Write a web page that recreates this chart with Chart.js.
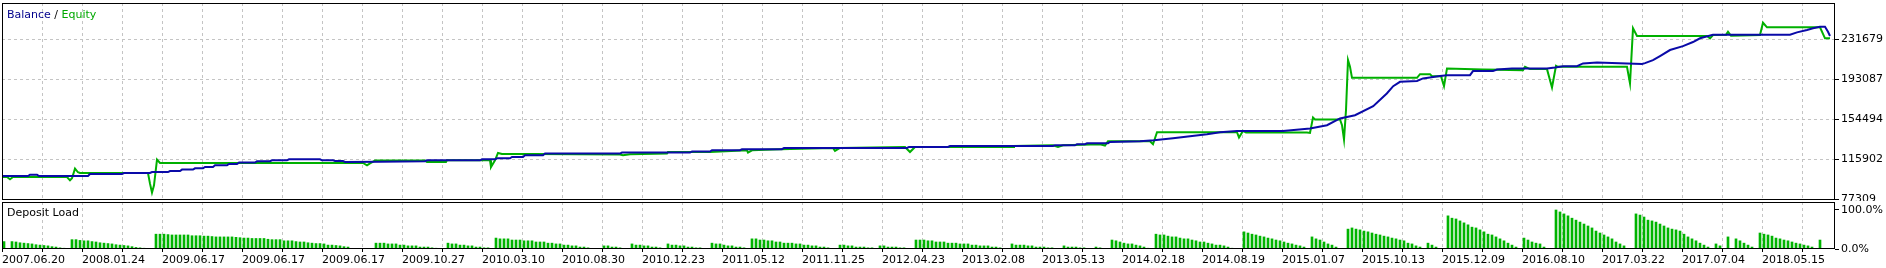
<!DOCTYPE html>
<html>
<head>
<meta charset="utf-8">
<script src="https://cdn.jsdelivr.net/npm/chart.js@4.4.1/dist/chart.umd.min.js"></script>
<style>
  html, body { margin:0; padding:0; background:#fff; }
  #wrap { position:relative; width:1886px; height:268px; }
  canvas { position:absolute; left:0; }
  #mainChart { top:0; }
  #loadChart { top:201px; }
</style>
</head>
<body>
<div id="wrap">
  <canvas id="mainChart" width="1886" height="201"></canvas>
  <canvas id="loadChart" width="1886" height="67"></canvas>
</div>
<script>
// x axis = trade number, one label every 20 trades
const dateLabels = [
  "2007.06.20","2008.01.24","2009.06.17","2009.06.17","2009.06.17","2009.10.27",
  "2010.03.10","2010.08.30","2010.12.23","2011.05.12","2011.11.25","2012.04.23",
  "2013.02.08","2013.05.13","2014.02.18","2014.08.19","2015.01.07","2015.10.13",
  "2015.12.09","2016.08.10","2017.03.22","2017.07.04","2018.05.15"
];
const tradeMax = 458.25;

const yTicks = [77309, 115902, 154494, 193087, 231679];
const loadTicks = [0, 100];

// [trade, balance]
const balancePts = [
  [0,99800],[6.5,99800],[7,101100],[8.75,101100],[9.25,99800],[21.5,99800],[22,101700],
  [30,101700],[30.5,102700],[37,102700],[37.5,103600],[41.5,103600],[42,104600],[44.5,104600],
  [45,106000],[47.75,106000],[48.25,107200],[50.25,107200],[50.75,108500],[52.75,108500],
  [53.25,110100],[56.25,110100],[56.75,111400],[58.75,111400],[59.25,112700],[63.25,112700],
  [63.75,114000],[67,114000],[67.5,114900],[71.25,114900],[71.75,115900],[79.5,115900],
  [80,114900],[82.75,114900],[83.25,114300],[85.25,114300],[85.75,113300],[94.5,113600],
  [105.75,114000],[106.25,114900],[119.5,114900],[120,115900],[123.25,115900],[123.75,116900],
  [127,116900],[127.5,118100],[130.25,118100],[130.75,119800],[135.25,119800],[135.75,121400],
  [154.5,121400],[155,122400],[172,122400],[172.5,123300],[177,123300],[177.5,124600],
  [184.5,124600],[185,125600],[195,125600],[195.5,126800],[226.25,126800],[226.75,127800],
  [236.5,127800],[237,128700],[262.75,128700],[263.25,129400],[268.25,129400],[268.75,130400],
  [270.75,130400],[271.25,131300],[276.5,131300],[277,132600],[284.5,133300],[288,134200],
  [292.75,136200],[297,138100],[301.25,140000],[304.5,142000],[308.75,143200],[320.25,143200],
  [327,145500],[331.25,148700],[334.5,155200],[338.25,158300],[342.8,167000],[346.2,179300],
  [347.8,186300],[349.5,190500],[353.75,191400],[355.25,193800],[359.5,196000],[361.25,196900],
  [367,196900],[367.75,200800],[372.75,200800],[373.75,202400],[377.5,203400],[386.25,203400],
  [388.25,204400],[390.25,205600],[393.75,205600],[395.25,208200],[398.75,209200],[406.25,208200],
  [410,207600],[410.75,208500],[412.75,211400],[414.5,215300],[417,221100],[420.25,224900],
  [422.75,228800],[424.5,232400],[427.75,235800],[439.5,235800],[447,235800],[448.75,238100],
  [451.25,240400],[452.75,242000],[454.5,243500],[455.75,243500],[456.5,238700],[457,234600]
];

// [trade, equity]
const equityPts = [
  [0,98800],[1.25,98800],[2,96600],[2.75,98800],[16.25,98800],[17,95650],[17.5,97570],
  [18.25,106930],[19,103400],[19.5,102690],[36.5,102690],[37,92460],[37.5,83770],[38,90820],
  [38.75,115600],[39.5,112330],[90.25,112330],[91.25,110110],[92,112040],[93.25,114650],
  [105.75,114650],[106.25,113300],[111,113300],[111.25,114940],[122,114940],[122.25,108470],
  [123.25,114940],[124,122000],[125,121020],[132.75,121020],[154.5,120440],[155.25,119760],
  [157,120730],[166.25,121400],[166.5,122950],[177,122950],[186.25,124590],[186.5,122370],
  [187.5,124590],[194.5,125550],[207.75,126800],[208.25,123920],[209.5,126800],[225.75,127770],
  [227,122950],[228.25,127770],[237,127770],[252.75,127770],[253,128740],[262.75,129410],
  [264,127770],[265.25,129410],[274.5,130380],[275.75,129120],[276.5,133270],[283.25,133270],
  [287,133270],[287.75,130380],[288.75,141950],[308.75,141950],[309.25,136850],[310.25,143210],
  [311,141660],[326.25,141660],[327,141280],[327.75,156140],[328.25,154210],[334.5,154210],
  [335,148700],[335.5,134910],[336,163180],[336.5,211420],[337,204950],[337.5,194340],
  [353.75,194340],[354.5,197910],[357,197910],[357.5,195980],[359.75,195980],[360.5,186330],
  [361.25,203410],[370.25,202450],[380.25,201770],[380.75,204950],[382,202730],[386.25,202730],
  [387,192120],[387.5,185080],[388.5,205920],[389,204950],[406.25,204950],[407,188940],
  [407.75,242000],[408.75,234570],[426.25,234570],[427,232350],[427.75,235540],[431,235830],
  [431.5,238720],[432.25,234860],[439.5,235540],[440.25,247400],[441.25,242970],[454.5,242970],
  [455.75,232350],[457,232350]
];

// deposit load (%), groups of consecutive trades starting at loadStart[k]
const loadStart = [0,2,17,38,93,111,123,150,157,166,177,187,209,219,228,252,265,273,277,288,
  310,327,336,356,361,380,388,408,428,431,433,439,454];
const loadGroups = [
  [19],
  [19,18,16,15,14,13,11,10,9,8,6,5,3,2],
  [24,24,22,21,21,19,18,16,15,14,13,11,10,9,8,6,4,3,2],
  [38,38,38,37,36,36,36,36,36,34,34,34,33,33,32,31,31,31,31,31,30,29,28,28,27,27,27,27,25,24,
   24,24,21,21,21,19,18,18,16,15,14,14,13,10,10,9,8,6,5],
  [15,15,15,13,13,13,10,10,8,8,8,5,5,5,3,2],
  [15,13,13,10,10,8,8,5,5,3,3],
  [28,26,26,26,23,23,23,21,21,21,18,18,18,15,15,13,13,10,10,8,8,5,5,3],
  [8,8,5,5,3],
  [13,10,10,8,8,5,5,3],
  [13,10,10,8,8,5,5,3,3],
  [15,13,13,10,8,8,5,5,3],
  [26,26,23,23,21,21,18,18,15,15,15,13,13,10,10,8,8,5,5,3],
  [10,10,8,8,5,5,5,3,3],
  [8,8,5,5,5,3,3],
  [23,23,23,21,21,18,18,18,15,15,15,13,13,13,10,10,8,8,8,5,5,3],
  [13,10,10,10,8,8,5,5,5,3,3],
  [8,5,5,5,3,3],
  [5,3],
  [23,21,18,15,13,13,10,8,5,2],
  [38,36,36,33,31,31,28,26,26,23,21,18,18,15,13,10,10,8,5,2],
  [44,41,38,36,33,31,28,26,23,21,18,15,13,10,8,5],
  [31,26,23,18,13,10,5],
  [51,54,51,49,46,44,41,38,36,33,31,28,26,23,21,15,13,8,5],
  [15,10,5],
  [85,79,77,72,67,62,56,54,49,44,38,36,31,26,21,15,10,5],
  [28,23,18,15,13,5],
  [100,95,90,85,79,74,69,64,59,54,46,41,36,31,26,18,13,8],
  [90,87,82,74,72,69,64,59,54,51,49,46,38,31,26,21,15,10,5],
  [13,8],
  [31],
  [26,21,15,10,5],
  [41,38,36,33,28,26,23,21,18,15,13,10,8,5],
  [23]
];

const FONT = { family: "'DejaVu Sans', sans-serif", size: 11 };
const GRID = "#c4c4c4";

const loadPoints = [];
loadGroups.forEach((g, k) => {
  g.forEach((v, j) => loadPoints.push({ x: loadStart[k] + j + 0.5, y: v }));
});

const xTickValues = [];
for (let t = 0; t <= 450; t += 10) xTickValues.push(t);

// no extra room for labels that stick out, the frame is fixed
function noPad(s){
  s.paddingTop = 0; s.paddingBottom = 0; s.paddingLeft = 0; s.paddingRight = 0;
}

function xScale(showLabels){
  return {
    type: "linear",
    min: 0, max: tradeMax,
    offset: false,
    afterBuildTicks: s => { s.ticks = xTickValues.map(v => ({ value: v })); },
    afterFit: s => { s.height = showLabels ? 19 : 0; noPad(s); },
    grid: { color: GRID, offset: false, drawTicks: showLabels, tickLength: 3, tickColor: "#000" },
    border: { display: false, dash: [3, 3] },
    ticks: {
      display: showLabels, autoSkip: false, maxRotation: 0, align: "start",
      padding: 2, color: "#000", font: FONT,
      callback: v => (v % 20 === 0 ? dateLabels[v / 20] : "")
    }
  };
}

// frame round the plot + caption text
function panelPlugin(parts, baseline){
  return {
    id: "panel",
    afterDraw(chart){
      const a = chart.chartArea, ctx = chart.ctx;
      ctx.save();
      ctx.strokeStyle = "#000";
      ctx.lineWidth = 1;
      ctx.strokeRect(Math.round(a.left) + 0.5, Math.round(a.top) + 0.5,
        Math.round(a.right - a.left) - 1, Math.round(a.bottom - a.top) - 1);
      ctx.font = `${FONT.size}px ${FONT.family}`;
      ctx.textBaseline = "alphabetic";
      let x = a.left + 5;
      parts.forEach(p => {
        ctx.fillStyle = p.color;
        ctx.fillText(p.text, x, baseline);
        x += ctx.measureText(p.text).width;
      });
      ctx.restore();
    }
  };
}

new Chart(document.getElementById("mainChart"), {
  type: "line",
  data: {
    datasets: [
      {
        label: "Balance",
        data: balancePts.map(p => ({ x: p[0], y: p[1] })),
        borderColor: "#0a0aa8", borderWidth: 2, pointRadius: 0, tension: 0
      },
      {
        label: "Equity",
        data: equityPts.map(p => ({ x: p[0], y: p[1] })),
        borderColor: "#00b000", borderWidth: 2, pointRadius: 0, tension: 0
      }
    ]
  },
  options: {
    responsive: false, animation: false, devicePixelRatio: 1,
    layout: { padding: { top: 3, left: 2, right: 0, bottom: 1 } },
    plugins: { legend: { display: false }, tooltip: { enabled: false } },
    scales: {
      x: xScale(false),
      y: {
        position: "right",
        min: 76700, max: 266400,
        afterBuildTicks: s => { s.ticks = yTicks.map(v => ({ value: v })); },
        afterFit: s => { s.width = 51; noPad(s); },
        grid: { color: GRID, drawTicks: true, tickLength: 4, tickColor: "#000" },
        border: { display: false, dash: [3, 3] },
        ticks: { color: "#000", font: FONT, padding: 2, callback: v => String(v) }
      }
    }
  },
  plugins: [panelPlugin([
    { text: "Balance", color: "#00008b" },
    { text: " / ", color: "#000" },
    { text: "Equity", color: "#00a800" }
  ], 18)]
});

new Chart(document.getElementById("loadChart"), {
  type: "bar",
  data: {
    datasets: [{
      label: "Deposit Load",
      data: loadPoints,
      backgroundColor: "#00b400",
      borderWidth: 0,
      barThickness: 2
    }]
  },
  options: {
    responsive: false, animation: false, devicePixelRatio: 1,
    layout: { padding: { top: 1, left: 2, right: 0, bottom: 0 } },
    plugins: { legend: { display: false }, tooltip: { enabled: false } },
    scales: {
      x: xScale(true),
      y: {
        position: "right",
        min: 0, max: 120.5,
        afterBuildTicks: s => { s.ticks = loadTicks.map(v => ({ value: v })); },
        afterFit: s => { s.width = 51; noPad(s); },
        grid: { drawOnChartArea: false, drawTicks: true, tickLength: 4, tickColor: "#000" },
        border: { display: false },
        ticks: { color: "#000", font: FONT, padding: 2, callback: v => v.toFixed(1) + "%" }
      }
    }
  },
  plugins: [panelPlugin([{ text: "Deposit Load", color: "#000" }], 15)]
});
</script>
</body>
</html>
